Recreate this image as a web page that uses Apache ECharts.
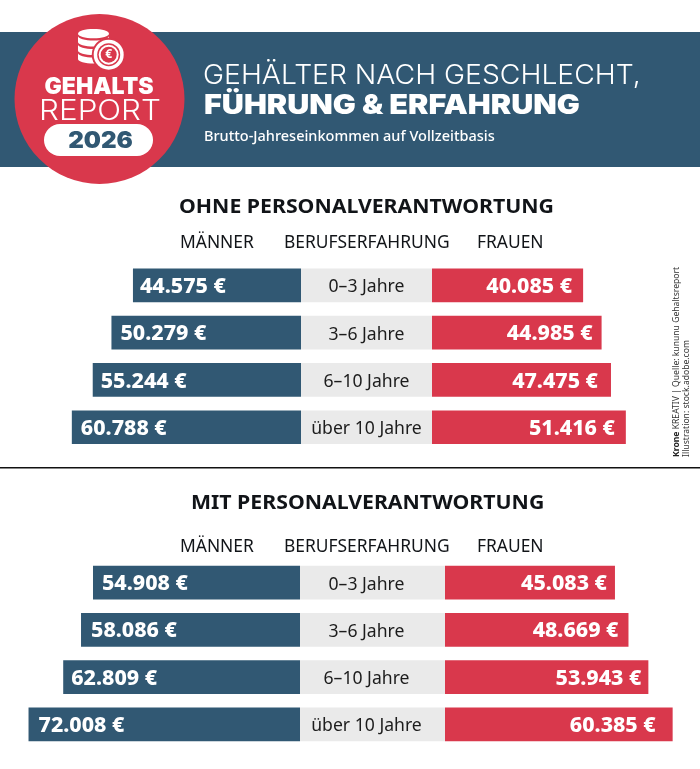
<!DOCTYPE html>
<html><head><meta charset="utf-8">
<style>html,body{margin:0;padding:0;background:#fff}#c{width:700px;height:769px}</style>
<script src="https://cdn.jsdelivr.net/npm/echarts@6/dist/echarts.min.js"></script>
</head><body><div id="c"></div>
<script>
const categories = ['0–3 Jahre','3–6 Jahre','6–10 Jahre','über 10 Jahre'];
const menWithout = [44575,50279,55244,60788];
const womenWithout = [40085,44985,47475,51416];
const menWith = [54908,58086,62809,72008];
const womenWith = [45083,48669,53943,60385];
const sectionTitles = ['OHNE PERSONALVERANTWORTUNG','MIT PERSONALVERANTWORTUNG'];
const columnHeads = ['MÄNNER','BERUFSERFAHRUNG','FRAUEN'];

const BLUE='#315873', RED='#D9384C', GREY='#EAEAEA', INK='#111418';
const BODY='"Noto Sans"', HEAD='Inter';
const fmt = v => String(v).replace(/(\d)(\d{3})$/,'$1.$2')+' €';
const PX = 0.00377;           // px per euro, both panels
const ROW_H = 189.2;
const valueFont={color:'#fff',fontFamily:BODY,fontWeight:800,fontSize:21.4};

const grids=[], xAxes=[], yAxes=[], series=[];
function addGrid(left,width,top,max,inverse){
  grids.push({left,width,top,height:ROW_H,containLabel:false,outerBoundsMode:'none'});
  const i=grids.length-1;
  xAxes.push({type:'value',gridIndex:i,min:0,max,inverse,show:false});
  yAxes.push({type:'category',gridIndex:i,data:categories,inverse:true,show:false});
  return i;
}
function panel(top,men,women,manEnd,womanStart,catOffset,menInset,womenInset){
  const mMax=75000, wMax=65000;
  const a=addGrid(manEnd-mMax*PX,mMax*PX,top,mMax,true);
  series.push({type:'bar',xAxisIndex:a,yAxisIndex:a,barWidth:33.7,silent:true,
    data:men.map((value,i)=>({value,label:{distance:menInset[i]}})),
    itemStyle:{color:BLUE},
    label:Object.assign({show:true,position:'insideLeft',offset:[0,1.5],formatter:p=>fmt(p.value)},valueFont)});
  const b=addGrid(manEnd,womanStart-manEnd,top,1,false);
  series.push({type:'bar',xAxisIndex:b,yAxisIndex:b,data:categories.map(()=>1),barWidth:33.7,silent:true,
    itemStyle:{color:GREY},
    label:{show:true,position:'inside',offset:[catOffset,2],color:'#1c1c1c',fontFamily:BODY,fontSize:17.6,formatter:p=>p.name}});
  const c=addGrid(womanStart,wMax*PX,top,wMax,false);
  series.push({type:'bar',xAxisIndex:c,yAxisIndex:c,barWidth:33.7,silent:true,
    data:women.map((value,i)=>({value,label:{distance:womenInset[i]}})),
    itemStyle:{color:RED},
    label:Object.assign({show:true,position:'insideRight',offset:[0,1.5],formatter:p=>fmt(p.value)},valueFont)});
}
panel(261.7,menWithout,womenWithout,301,432,0,[7,9,8,9],[11,9,13,11]);
panel(558.9,menWith,womenWith,300,445,-6,[9,10,8,10],[8,10,7,17]);

const txt=(x,y,text,font,fill,extra={})=>({type:'text',x,y,z:20,style:Object.assign({text,font,fill,textAlign:'left',textVerticalAlign:'middle'},extra.style||{}),scaleX:extra.scaleX||1});
function band(t){
  const pts=[];
  for(let i=0;i<=16;i++){const a=Math.PI*i/16;pts.push([93.5-15.5*Math.cos(a),t+4.5*Math.sin(a)]);}
  for(let i=16;i>=0;i--){const a=Math.PI*i/16;pts.push([93.5-15.5*Math.cos(a),t+6+4.5*Math.sin(a)]);}
  return pts;
}
const graphic=[
  {type:'rect',z:1,shape:{x:0,y:32,width:700,height:135},style:{fill:BLUE}},
  {type:'circle',z:2,shape:{cx:99.5,cy:99,r:85},style:{fill:RED}},
  {type:'ellipse',z:3,shape:{cx:93.5,cy:33.7,rx:15.5,ry:4.6},style:{fill:'#fff'}},
  ...[36,44.5,53].map(t=>({type:'polygon',z:3,shape:{points:band(t)},style:{fill:'#fff'}})),
  {type:'circle',z:4,shape:{cx:108.7,cy:54.7,r:17},style:{fill:RED}},
  {type:'circle',z:5,shape:{cx:108.7,cy:54.7,r:15},style:{fill:'#fff'}},
  {type:'circle',z:6,shape:{cx:108.7,cy:54.7,r:11.5},style:{fill:RED}},
  {type:'circle',z:7,shape:{cx:108.7,cy:54.7,r:10},style:{fill:'#fff'}},
  {type:'circle',z:8,shape:{cx:108.7,cy:54.7,r:8},style:{fill:RED}},
  txt(108.7,55,'€','700 12px '+BODY,'#fff',{style:{textAlign:'center'}}),
  txt(99,87,'GEHALTS','900 23px '+HEAD,'#fff',{style:{textAlign:'center'}}),
  txt(100,111,'REPORT','300 28.5px '+HEAD,'#fff',{style:{textAlign:'center'},scaleX:1.1}),
  {type:'rect',z:9,shape:{x:44,y:124,width:109,height:32,r:16},style:{fill:'#fff'}},
  txt(100.5,141,'2026','900 23px '+HEAD,BLUE,{style:{textAlign:'center'},scaleX:1.05}),
  txt(203,76,'GEHÄLTER NACH GESCHLECHT,','300 27px '+HEAD,'#fff',{scaleX:1.048}),
  txt(204,106,'FÜHRUNG & ERFAHRUNG','900 27px '+HEAD,'#fff',{scaleX:1.132}),
  txt(204,136.5,'Brutto-Jahreseinkommen auf Vollzeitbasis','500 14.5px '+BODY,'#fff'),
  txt(179,207,sectionTitles[0],'700 19.8px '+BODY,INK,{scaleX:1.075}),
  txt(191,503,sectionTitles[1],'700 19.8px '+BODY,INK,{scaleX:1.075}),
  txt(180,243,columnHeads[0],'400 17.4px '+BODY,INK),
  txt(284,243,columnHeads[1],'400 17.4px '+BODY,INK),
  txt(477,243,columnHeads[2],'400 17.4px '+BODY,INK),
  txt(180,547,columnHeads[0],'400 17.4px '+BODY,INK),
  txt(284,547,columnHeads[1],'400 17.4px '+BODY,INK),
  txt(477,547,columnHeads[2],'400 17.4px '+BODY,INK),
  {type:'line',z:3,shape:{x1:0,y1:467.8,x2:700,y2:467.8},style:{stroke:'#111',lineWidth:1.5}},
  {type:'text',z:20,x:682,y:457,rotation:Math.PI/2,style:{text:'{b|Krone} KREATIV | Quelle: kununu Gehaltsreport\nIllustration: stock.adobe.com',rich:{b:{font:'700 8.6px '+BODY,fill:'#222'}},font:'400 8.6px '+BODY,fill:'#333',textAlign:'left',textVerticalAlign:'middle',lineHeight:10}}
];
const chart=echarts.init(document.getElementById('c'),null,{renderer:'canvas'});
chart.setOption({animation:false,backgroundColor:'#fff',grid:grids,xAxis:xAxes,yAxis:yAxes,series,graphic:{elements:graphic}});
</script></body></html>
